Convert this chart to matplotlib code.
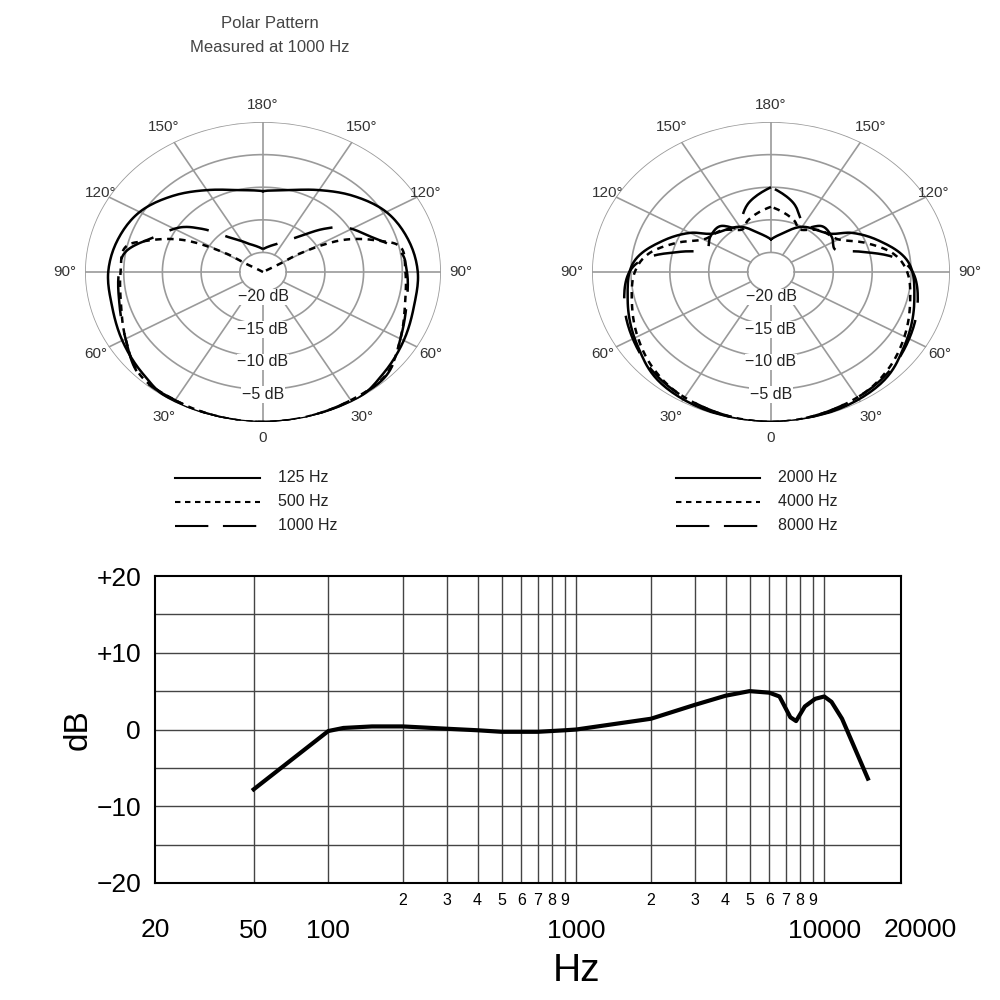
import numpy as np
import matplotlib
matplotlib.use("Agg")
import matplotlib.pyplot as plt
from matplotlib.lines import Line2D

# ---- polar data (dB vs angle, symmetric) ----
ang_125 = [0, 30, 45, 60, 75, 90, 105, 120, 135, 150, 165, 180]
db_125 = [0, 0, -1, -2, -2.8, -3, -3.6, -4.6, -6.5, -8.5, -10, -10.6]
ang_500 = [0, 15, 30, 45, 60, 75, 90, 102, 108, 116, 121, 125, 180]
db_500 = [0, -0.1, -0.3, -0.6, -2.5, -4.0, -4.6, -4.8, -7.4, -12, -17.7, -23, -23]
ang_1000 = [0, 15, 30, 45, 60, 75, 90, 100, 111, 123, 130, 140, 154, 165, 180]
db_1000 = [0, -0.1, -0.3, -0.5, -2.5, -3.8, -4.4, -5.0, -8, -10.4, -12.7, -16, -18, -18.8, -19.5]

ang_2000 = [0, 37, 57, 77, 95, 109, 120, 129, 150, 165, 180]
db_2000 = [0, -0.7, -2.5, -4.1, -5.3, -8.3, -11, -13.6, -15, -16.8, -18]
ang_4000 = [0, 30, 45, 60, 75, 90, 100, 110, 120, 135, 150, 160, 180]
db_4000 = [0, -0.8, -1.8, -3.2, -4.5, -5.5, -7, -10, -13, -14, -15.5, -14.5, -13]
ang_8000 = [0, 30, 45, 60, 75, 90, 98, 105, 112, 125, 137, 147, 155, 165, 180]
db_8000 = [0, -0.8, -1.5, -2.5, -3.5, -4.8, -7, -11, -14, -13.5, -13.4, -15, -14, -12, -10]

ring_levels = [-20, -15, -10, -5, 0]
ring_labels = ["\u221220 dB", "\u221215 dB", "\u221210 dB", "\u22125 dB"]
angle_ticks = [0, 30, 60, 90, 120, 150, 180]
angle_labels = ["0", "30\u00b0", "60\u00b0", "90\u00b0", "120\u00b0", "150\u00b0", "180\u00b0"]

# ---- frequency response ----
freq = [50, 100, 115, 150, 200, 300, 400, 500, 700, 900, 1000, 2000, 3000, 4000,
        5000, 6000, 6600, 7300, 7700, 8350, 9200, 10000, 10700, 11800, 15000]
resp = [-7.8, -0.2, 0.2, 0.4, 0.4, 0.1, -0.1, -0.3, -0.3, -0.1, 0.0, 1.4, 3.2, 4.4,
        5.0, 4.8, 4.3, 1.6, 1.1, 3.0, 4.0, 4.3, 3.6, 1.4, -6.4]
big_ticks = [50, 100, 1000, 10000]
big_tick_labels = ["50", "100", "1000", "10000"]
minor_vals = [200, 300, 400, 500, 600, 700, 800, 900, 2000, 3000, 4000, 5000, 6000, 7000, 8000, 9000]
minor_labels = ["2", "3", "4", "5", "6", "7", "8", "9"] * 2
y_ticks = [20, 10, 0, -10, -20]
y_tick_labels = ["+20", "+10", "0", "\u221210", "\u221220"]

RMIN = -23
GRID = "#9a9a9a"

fig = plt.figure(figsize=(10, 10), dpi=100)
plt.rcParams['font.family'] = ['Liberation Sans', 'DejaVu Sans']

styles = {
    "solid": dict(ls="-"),
    "short": dict(ls=(0, (2.6, 2.2))),
    "long": dict(ls=(0, (16, 7))),
}

def smooth(x, y, n=12):
    # Catmull-Rom densification for rendering a smooth curve through the points
    x = np.asarray(x, float); y = np.asarray(y, float)
    P = np.column_stack([x, y])
    P = np.vstack([P[0], P, P[-1]])
    out = []
    for i in range(1, len(P) - 2):
        p0, p1, p2, p3 = P[i - 1], P[i], P[i + 1], P[i + 2]
        for t in np.linspace(0, 1, n, endpoint=False):
            t2, t3 = t * t, t * t * t
            out.append(0.5 * ((2 * p1) + (-p0 + p2) * t + (2 * p0 - 5 * p1 + 4 * p2 - p3) * t2
                              + (-p0 + 3 * p1 - 3 * p2 + p3) * t3))
    out.append(P[-2])
    out = np.array(out)
    return out[:, 0], out[:, 1]

label_r = {0: 2.4, 30: 2.6, 60: 2.0, 90: 2.6, 120: 1.2, 150: 2.6, 180: 2.6}

def polar_panel(rect, series):
    ax = fig.add_axes(rect, projection="polar")
    ax.set_aspect("auto")
    ax.set_theta_zero_location("S")
    ax.set_ylim(RMIN, 0)
    ax.grid(False)
    ax.set_xticks([])
    ax.set_yticks([])
    ax.spines["polar"].set_visible(False)
    th = np.linspace(0, 2 * np.pi, 400)
    for lv in ring_levels:
        ax.plot(th, np.full_like(th, lv), color=GRID, lw=1.2, zorder=1)
    for a in range(0, 360, 30):
        t = np.deg2rad(a)
        ax.plot([t, t], [-20, 0], color=GRID, lw=1.2, zorder=1)
    for a, lab in zip(angle_ticks, angle_labels):
        for sgn in ([1] if a in (0, 180) else [1, -1]):
            ax.text(np.deg2rad(sgn * a), label_r[a], lab, ha="center", va="center",
                    fontsize=11, color="#333333", clip_on=False)
    for lv, lab in zip(ring_levels[:-1], ring_labels):
        ax.text(0, lv + 0.8, lab, ha="center", va="center", fontsize=11.5, color="#222222",
                bbox=dict(facecolor="white", edgecolor="none", pad=0.5), zorder=3)
    for angs, dbs, st in series:
        a = np.array(angs, float)
        d = np.clip(np.array(dbs, float), RMIN, 0)
        full_a = np.concatenate([-a[::-1], a[1:]])
        full_d = np.concatenate([d[::-1], d[1:]])
        sa, sd = smooth(full_a, full_d)
        ax.plot(np.deg2rad(sa), np.clip(sd, RMIN, 0), color="black", lw=1.8, zorder=4, **styles[st])
    return ax

polar_panel([0.085, 0.578, 0.356, 0.300],
            [(ang_125, db_125, "solid"), (ang_500, db_500, "short"), (ang_1000, db_1000, "long")])
polar_panel([0.592, 0.578, 0.358, 0.300],
            [(ang_2000, db_2000, "solid"), (ang_4000, db_4000, "short"), (ang_8000, db_8000, "long")])

fig.text(0.27, 0.976, "Polar Pattern", ha="center", va="center", fontsize=12, color="#444444")
fig.text(0.27, 0.952, "Measured at 1000 Hz", ha="center", va="center", fontsize=12, color="#444444")

# legends
leg = [(0.175, 0.260, 0.278, ["125 Hz", "500 Hz", "1000 Hz"]),
       (0.676, 0.760, 0.778, ["2000 Hz", "4000 Hz", "8000 Hz"])]
for x0, x1, xt, labs in leg:
    for i, (lab, st) in enumerate(zip(labs, ["solid", "short", "long"])):
        y = 1 - (0.478 + 0.024 * i)
        fig.add_artist(Line2D([x0, x1], [y, y], color="black", lw=1.5, **styles[st]))
        fig.text(xt, y, lab, va="center", ha="left", fontsize=11.5, color="#222222")

# frequency response
ax = fig.add_axes([0.155, 0.117, 0.746, 0.307])
ax.set_xscale("log")
ax.set_xlim(20, 20400)
ax.set_ylim(-20, 20)
for v in big_ticks + minor_vals:
    ax.axvline(v, color="#444444", lw=1.0, zorder=1)
for v in range(-15, 20, 5):
    ax.axhline(v, color="#444444", lw=1.0, zorder=1)
ax.plot(freq, resp, color="black", lw=3, zorder=3)
ax.set_xticks(big_ticks)
ax.set_xticklabels(big_tick_labels, fontsize=19)
ax.xaxis.set_minor_locator(plt.NullLocator())
ax.tick_params(axis="x", length=0, pad=26)
ax.set_yticks(y_ticks)
ax.set_yticklabels(y_tick_labels, fontsize=19)
ax.tick_params(axis="y", length=0, pad=10)
for v, lab in zip(minor_vals, minor_labels):
    ax.text(v, -21.3, lab, ha="center", va="top", fontsize=11.5)
ax.text(20, -26.1, "20", ha="center", va="center", fontsize=19, clip_on=False)
ax.text(24500, -26.1, "20000", ha="center", va="center", fontsize=19, clip_on=False)
for s in ax.spines.values():
    s.set_linewidth(1.5)
ax.set_ylabel("dB", fontsize=24, labelpad=2)
ax.text(1000, -31.5, "Hz", ha="center", va="center", fontsize=28)

fig.savefig("out.png", dpi=100, facecolor="white")
